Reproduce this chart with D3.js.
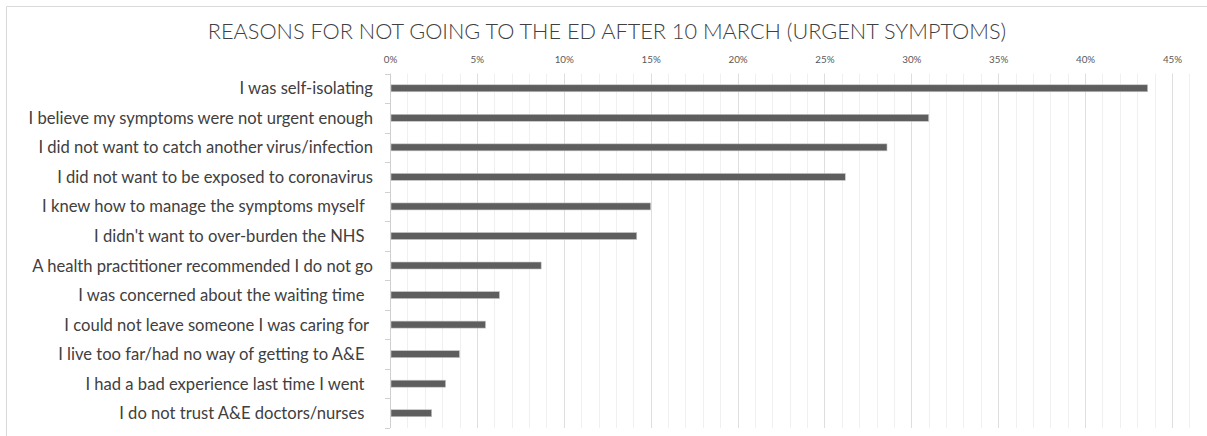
<!DOCTYPE html>
<html>
<head>
<meta charset="utf-8">
<script src="https://cdn.jsdelivr.net/npm/d3@7/dist/d3.min.js"></script>
<style>
  html, body { margin: 0; padding: 0; background: #fff; }
  svg { display: block; }
  text { font-family: Lato, "Open Sans", sans-serif; }
  .cat text { white-space: pre; }
</style>
</head>
<body>
<svg id="chart" width="1207" height="436"></svg>
<script>
// Survey reasons, top to bottom, with share of respondents
const reasons = [
  "I was self-isolating",
  "I believe my symptoms were not urgent enough",
  "I did not want to catch another virus/infection",
  "I did not want to be exposed to coronavirus",
  "I knew how to manage the symptoms myself  ",
  "I didn't want to over-burden the NHS  ",
  "A health practitioner recommended I do not go",
  "I was concerned about the waiting time  ",
  "I could not leave someone I was caring for ",
  "I live too far/had no way of getting to A&E  ",
  "I had a bad experience last time I went  ",
  "I do not trust A&E doctors/nurses  "
];
const shares = [0.436, 0.310, 0.286, 0.262, 0.150, 0.142, 0.087, 0.063, 0.055, 0.040, 0.032, 0.024];
const tickValues = [0, 0.05, 0.10, 0.15, 0.20, 0.25, 0.30, 0.35, 0.40, 0.45];
const chartTitle = "REASONS FOR NOT GOING TO THE ED AFTER 10 MARCH (URGENT SYMPTOMS)";

const svg = d3.select("#chart");
const W = 1207, H = 436;
const margin = { top: 73.5, right: 18, bottom: 8, left: 390 };

// chart frame
svg.append("path")
  .attr("d", `M6.5,${H} V6.5 H${W}`)
  .attr("fill", "none")
  .attr("stroke", "#d9d9d9")
  .attr("stroke-width", 1);

const x = d3.scaleLinear().domain([0, 0.46]).range([margin.left, margin.left + 0.46 * (782 / 0.45)]);
const y = d3.scaleBand().domain(reasons).range([margin.top, 428]).paddingInner(0).paddingOuter(0);

// gridlines every 1%, heavier at 5%
const grid = d3.range(1, 47).map(d => d / 100);
svg.append("g").selectAll("line").data(grid).join("line")
  .attr("x1", d => Math.round(x(d)) + 0.5)
  .attr("x2", d => Math.round(x(d)) + 0.5)
  .attr("y1", margin.top)
  .attr("y2", 428)
  .attr("stroke", (d, i) => ((i + 1) % 5 === 0 ? "#dedede" : "#f0f0f0"))
  .attr("stroke-width", 1);

// top axis labels
const xAxis = d3.axisTop(x).tickValues(tickValues).tickFormat(d3.format(".0%")).tickSize(0).tickPadding(0);
const gx = svg.append("g").attr("transform", "translate(0,63)").call(xAxis);
gx.select(".domain").remove();
gx.selectAll("text")
  .attr("fill", "#595959")
  .style("font-size", "9.8px")
  .attr("dy", 0);

// category axis
const yAxis = d3.axisLeft(y).tickSize(0).tickPadding(17);
const gy = svg.append("g").attr("class", "cat").attr("transform", `translate(${margin.left},0)`).call(yAxis);
gy.select(".domain").attr("stroke", "#d0d0d0").attr("d", `M0.5,${margin.top}V428`);
gy.selectAll("text")
  .attr("fill", "#404040")
  .style("font-size", "16.6px")
  .attr("dy", "0.36em");

// category separators
const bounds = reasons.map(r => y(r)).concat([428]);
svg.append("g").selectAll("line").data(bounds).join("line")
  .attr("x1", margin.left - 5)
  .attr("x2", margin.left)
  .attr("y1", d => Math.round(d) + 0.5)
  .attr("y2", d => Math.round(d) + 0.5)
  .attr("stroke", "#d0d0d0");

// bars
const barH = 7;
svg.append("g").selectAll("rect").data(shares).join("rect")
  .attr("x", x(0) + 1)
  .attr("y", (d, i) => y(reasons[i]) + y.bandwidth() / 2 - barH / 2)
  .attr("width", d => x(d) - x(0) - 1)
  .attr("height", barH)
  .attr("fill", "#5e5e5e")
  .attr("stroke", "#c8c8c8")
  .attr("stroke-width", 0.6);

// title
svg.append("text")
  .attr("x", 607)
  .attr("y", 39)
  .attr("text-anchor", "middle")
  .attr("fill", "#404040")
  .style("font-size", "21.7px")
  .style("font-weight", 300)
  .text(chartTitle);
</script>
</body>
</html>
